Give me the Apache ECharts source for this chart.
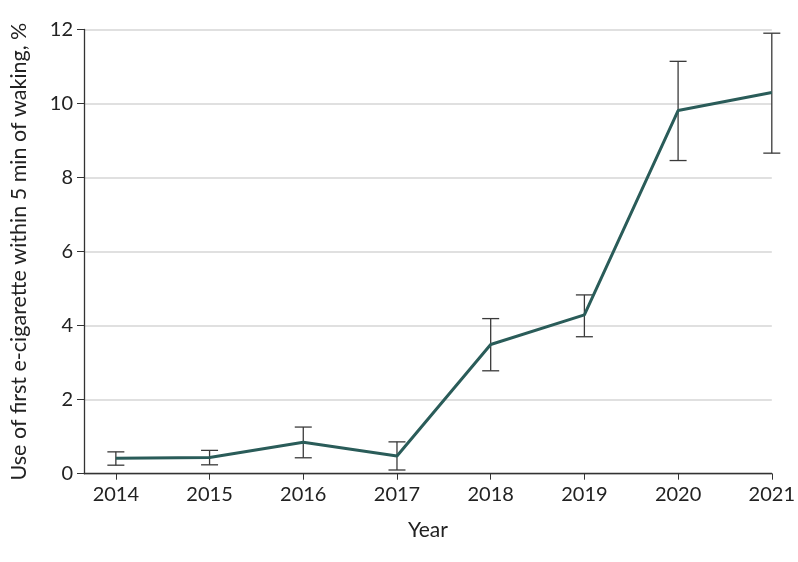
<!DOCTYPE html>
<html>
<head>
<meta charset="utf-8">
<script src="https://cdn.jsdelivr.net/npm/echarts@6/dist/echarts.min.js"></script>
<style>
  html, body { margin: 0; padding: 0; background: #fff; }
  #chart { width: 798px; height: 562px; }
</style>
</head>
<body>
<div id="chart"></div>
<script>
// 年份和数据
const years = [2014, 2015, 2016, 2017, 2018, 2019, 2020, 2021];
const pct = [0.42, 0.44, 0.85, 0.48, 3.49, 4.29, 9.81, 10.30];
const lower = [0.23, 0.24, 0.43, 0.10, 2.78, 3.70, 8.46, 8.66];
const upper = [0.59, 0.63, 1.26, 0.86, 4.19, 4.83, 11.14, 11.90];
const yTicks = [0, 2, 4, 6, 8, 10, 12];

const font = "Lato";
const textColor = "#222";

const chart = echarts.init(document.getElementById("chart"));

const lineData = years.map((y, i) => [y, pct[i]]);
const errData = years.map((y, i) => [y, lower[i], upper[i]]);

const options = {
  animation: false,
  grid: { left: 81, right: 25, top: 29.5, bottom: 88.3 },
  xAxis: {
    type: "value",
    min: 2013.66,
    max: 2021,
    name: "Year",
    nameLocation: "middle",
    nameGap: 46,
    nameTextStyle: { fontFamily: font, fontSize: 21, color: textColor },
    axisLine: { show: true, lineStyle: { color: "#333", width: 1.3 } },
    axisTick: { show: true, customValues: years, length: 6, lineStyle: { color: "#333" } },
    axisLabel: {
      customValues: years,
      fontFamily: font, fontSize: 20, color: textColor, margin: 11,
      formatter: (v) => String(v),
    },
    splitLine: { show: false },
  },
  yAxis: {
    type: "value",
    min: 0,
    max: 12,
    interval: 2,
    name: "Use of first e-cigarette within 5 min of waking, %",
    nameLocation: "middle",
    nameGap: 54,
    nameTextStyle: { fontFamily: font, fontSize: 21.5, color: textColor },
    axisLine: { show: true, lineStyle: { color: "#333", width: 1.3 } },
    axisTick: { show: true, length: 7, lineStyle: { color: "#333" } },
    axisLabel: { customValues: yTicks, fontFamily: font, fontSize: 20, color: textColor, margin: 11 },
    splitLine: { show: true, lineStyle: { color: "#d6d6d6", width: 1.5 } },
  },
  series: [
    {
      type: "line",
      data: lineData,
      symbol: "none",
      lineStyle: { color: "#2a5c59", width: 3 },
      z: 3,
    },
    {
      type: "custom",
      data: errData,
      z: 2,
      renderItem: (params, api) => {
        const x = api.value(0);
        const lo = api.coord([x, api.value(1)]);
        const hi = api.coord([x, api.value(2)]);
        const half = 8.5;
        const style = { stroke: "#3a3a3a", lineWidth: 1.3 };
        return {
          type: "group",
          children: [
            { type: "line", shape: { x1: hi[0], y1: hi[1], x2: lo[0], y2: lo[1] }, style },
            { type: "line", shape: { x1: hi[0] - half, y1: hi[1], x2: hi[0] + half, y2: hi[1] }, style },
            { type: "line", shape: { x1: lo[0] - half, y1: lo[1], x2: lo[0] + half, y2: lo[1] }, style },
          ],
        };
      },
    },
  ],
};

chart.setOption(options);
</script>
</body>
</html>
